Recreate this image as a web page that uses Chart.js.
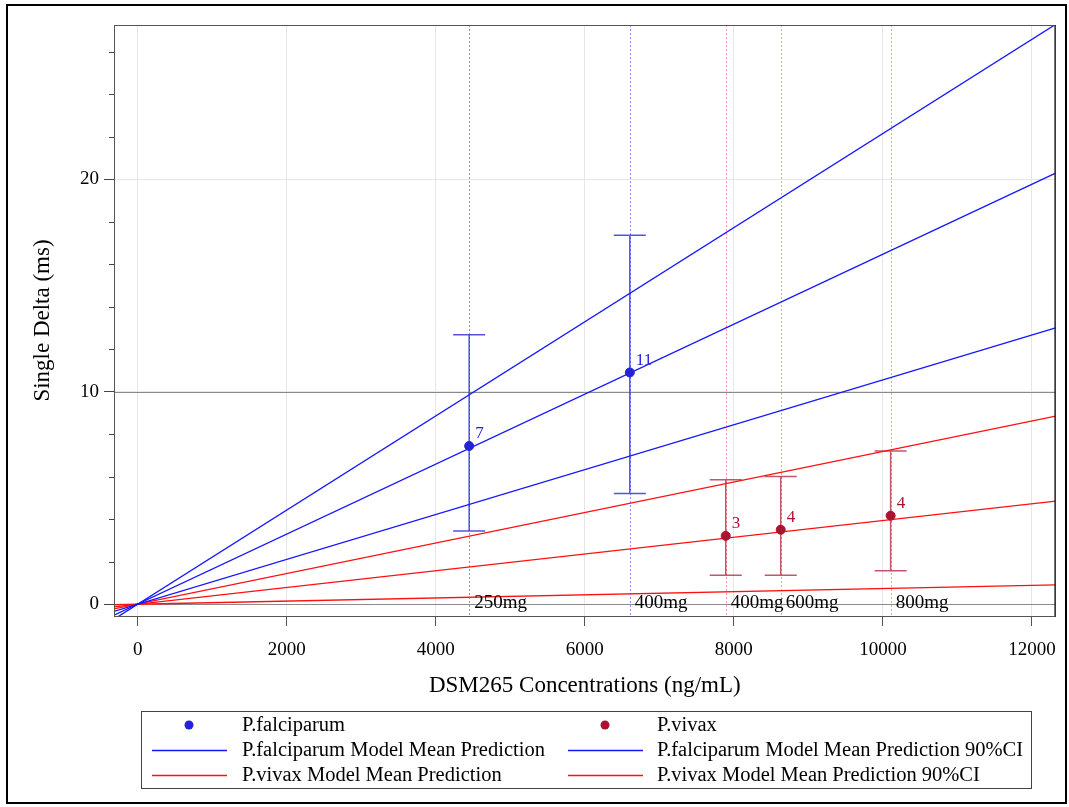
<!DOCTYPE html>
<html>
<head>
<meta charset="utf-8">
<title>DSM265 Single Delta</title>
<script src="https://cdn.jsdelivr.net/npm/chart.js@4/dist/chart.umd.min.js"></script>
<style>
  body { margin: 0; background: #fff; }
  #wrap { width: 1069px; height: 807px; }
</style>
</head>
<body>
<div id="wrap"><canvas id="deltaChart" width="1069" height="807"></canvas></div>
<script>
// observed means with 90% CI, per dose group
const pfConc = [4448, 6604];
const pfMean = [7.44, 10.90];
const pfLow = [3.44, 5.21];
const pfHigh = [12.67, 17.36];
const pfN = [7, 11];
const pfDose = ["250mg", "400mg"];

const pvConc = [7891, 8629, 10104];
const pvMean = [3.21, 3.50, 4.16];
const pvLow = [1.36, 1.36, 1.57];
const pvHigh = [5.85, 6.01, 7.20];
const pvN = [3, 4, 4];
const pvDose = ["400mg", "600mg", "800mg"];

// model prediction lines (value at each end of the x range)
const predConc = [-318, 12318];
const pfPred = [-0.52, 20.28];
const pfPredLo = [-0.34, 13.0];
const pfPredHi = [-0.71, 27.28];
const pvPred = [-0.13, 4.85];
const pvPredLo = [-0.03, 0.9];
const pvPredHi = [-0.23, 8.85];

const xTicks = [0, 2000, 4000, 6000, 8000, 10000, 12000];
const yTicks = [0, 10, 20];
const refLines = [0, 10];

const SERIF = "'Liberation Serif', 'DejaVu Serif', serif";
const PF_DOT = "#2424d6";
const PV_DOT = "#ab1430";
const PF_LINE = "#1616ff";
const PV_LINE = "#ff1010";

const pts = (xs, ys) => xs.map((x, i) => ({ x: x, y: ys[i] }));

function lineSet(label, ys, color) {
  return {
    label: label,
    data: pts(predConc, ys),
    showLine: true,
    borderColor: color,
    backgroundColor: color,
    borderWidth: 1.3,
    pointRadius: 0,
    pointHoverRadius: 0,
  };
}

const datasets = [
  { label: "P.falciparum", data: pts(pfConc, pfMean), backgroundColor: PF_DOT, borderColor: PF_DOT, pointRadius: 4.5, showLine: false },
  { label: "P.vivax", data: pts(pvConc, pvMean), backgroundColor: PV_DOT, borderColor: PV_DOT, pointRadius: 4.5, showLine: false },
  lineSet("P.falciparum Model Mean Prediction", pfPred, PF_LINE),
  lineSet("P.falciparum Model Mean Prediction 90%CI", pfPredLo, PF_LINE),
  lineSet("P.falciparum Model Mean Prediction 90%CI", pfPredHi, PF_LINE),
  lineSet("P.vivax Model Mean Prediction", pvPred, PV_LINE),
  lineSet("P.vivax Model Mean Prediction 90%CI", pvPredLo, PV_LINE),
  lineSet("P.vivax Model Mean Prediction 90%CI", pvPredHi, PV_LINE),
];

// legend: two columns, row by row
const legendOrder = [0, 1, 2, 3, 5, 6];

const groups = [
  { conc: pfConc, mean: pfMean, lo: pfLow, hi: pfHigh, n: pfN, dose: pfDose, dot: PF_DOT, bar: "rgba(40,40,220,0.8)", guide: "#8a8aff" },
  { conc: pvConc, mean: pvMean, lo: pvLow, hi: pvHigh, n: pvN, dose: pvDose, dot: PV_DOT, bar: "rgba(175,30,55,0.75)", guide: "#ff9a9a" },
];

const extras = {
  id: "extras",
  beforeDraw(chart) {
    const ctx = chart.ctx;
    ctx.save();
    ctx.fillStyle = "#fff";
    ctx.fillRect(0, 0, chart.width, chart.height);
    ctx.restore();
  },
  beforeDatasetsDraw(chart) {
    const { ctx, chartArea: a, scales: { x, y } } = chart;
    ctx.save();
    // reference lines
    ctx.strokeStyle = "#8a8a8a";
    ctx.lineWidth = 1;
    refLines.forEach(v => {
      const py = Math.round(y.getPixelForValue(v)) + 0.5;
      ctx.beginPath(); ctx.moveTo(a.left, py); ctx.lineTo(a.right, py); ctx.stroke();
    });
    // dotted guides at each dose group
    ctx.setLineDash([2, 2]);
    groups.forEach(g => {
      ctx.strokeStyle = g.guide;
      g.conc.forEach(c => {
        const px = Math.round(x.getPixelForValue(c)) + 0.5;
        ctx.beginPath(); ctx.moveTo(px, a.top); ctx.lineTo(px, a.bottom); ctx.stroke();
      });
    });
    ctx.setLineDash([]);
    // error bars
    groups.forEach(g => {
      ctx.strokeStyle = g.bar;
      ctx.lineWidth = 1.5;
      g.conc.forEach((c, i) => {
        const px = x.getPixelForValue(c);
        const top = y.getPixelForValue(g.hi[i]);
        const bot = y.getPixelForValue(g.lo[i]);
        ctx.beginPath();
        ctx.moveTo(px, top); ctx.lineTo(px, bot);
        ctx.moveTo(px - 16, top); ctx.lineTo(px + 16, top);
        ctx.moveTo(px - 16, bot); ctx.lineTo(px + 16, bot);
        ctx.stroke();
      });
    });
    ctx.restore();
  },
  afterDatasetsDraw(chart) {
    const { ctx, scales: { x, y } } = chart;
    ctx.save();
    ctx.textBaseline = "middle";
    ctx.textAlign = "left";
    groups.forEach(g => {
      g.conc.forEach((c, i) => {
        const px = x.getPixelForValue(c);
        const py = y.getPixelForValue(g.mean[i]);
        ctx.font = "17px " + SERIF;
        ctx.fillStyle = g.dot;
        ctx.fillText(String(g.n[i]), px + 6, py - 12);
        ctx.font = "19px " + SERIF;
        ctx.fillStyle = "#000";
        ctx.fillText(g.dose[i], px + 5, y.getPixelForValue(0) - 1);
      });
    });
    ctx.restore();
  },
  afterDraw(chart) {
    const { ctx, chartArea: a, scales: { y } } = chart;
    ctx.save();
    // plot box
    ctx.strokeStyle = "#555";
    ctx.lineWidth = 1;
    ctx.strokeRect(a.left + 0.5, a.top + 0.5, a.right - a.left - 1, a.bottom - a.top);
    ctx.strokeStyle = "#000";
    ctx.beginPath();
    ctx.moveTo(a.right - 0.5, a.top); ctx.lineTo(a.right - 0.5, a.bottom);
    ctx.stroke();
    // minor y ticks every 2
    ctx.strokeStyle = "#444";
    for (let v = 2; v < y.max; v += 2) {
      if (v % 10 === 0) continue;
      const py = Math.round(y.getPixelForValue(v)) + 0.5;
      ctx.beginPath(); ctx.moveTo(a.left - 5, py); ctx.lineTo(a.left, py); ctx.stroke();
    }
    // outer frame
    ctx.strokeStyle = "#000";
    ctx.lineWidth = 2;
    ctx.strokeRect(7, 5, 1059, 798);
    // legend
    const box = { left: 141, top: 711, right: 1031, bottom: 788 };
    ctx.lineWidth = 1;
    ctx.strokeStyle = "#444";
    ctx.strokeRect(box.left + 0.5, box.top + 0.5, box.right - box.left, box.bottom - box.top);
    const cols = [{ sym: 189, text: 242 }, { sym: 605, text: 657 }];
    const rowY = [725, 750, 775];
    ctx.font = "20.5px " + SERIF;
    ctx.textBaseline = "middle";
    ctx.textAlign = "left";
    legendOrder.forEach((di, k) => {
      const ds = chart.data.datasets[di];
      const col = cols[k % 2];
      const ry = rowY[Math.floor(k / 2)];
      if (ds.showLine) {
        ctx.strokeStyle = ds.borderColor;
        ctx.lineWidth = 1.3;
        ctx.beginPath(); ctx.moveTo(col.sym - 37, ry + 0.5); ctx.lineTo(col.sym + 38, ry + 0.5); ctx.stroke();
      } else {
        ctx.fillStyle = ds.backgroundColor;
        ctx.beginPath(); ctx.arc(col.sym, ry, 4.5, 0, Math.PI * 2); ctx.fill();
      }
      ctx.fillStyle = "#000";
      ctx.fillText(ds.label, col.text, ry + 1);
    });
    ctx.restore();
  }
};

new Chart(document.getElementById("deltaChart"), {
  type: "scatter",
  data: { datasets: datasets },
  plugins: [extras],
  options: {
    responsive: false,
    animation: false,
    layout: { padding: { left: 0, top: 25, right: 13, bottom: 107 } },
    plugins: {
      legend: { display: false },
      tooltip: { enabled: false },
    },
    scales: {
      x: {
        type: "linear",
        min: -318,
        max: 12318,
        afterBuildTicks: s => { s.ticks = xTicks.map(v => ({ value: v })); },
        afterFit: s => { s.height = 84; },
        grid: { color: "#e6e6e6", tickColor: "#555", tickLength: 10 },
        border: { color: "#000", width: 1 },
        ticks: {
          color: "#000",
          padding: 13,
          maxRotation: 0,
          font: { family: SERIF, size: 19 },
          callback: v => String(v),
        },
        title: {
          display: true,
          text: "DSM265 Concentrations (ng/mL)",
          color: "#000",
          padding: { top: 0, bottom: 0 },
          font: { family: SERIF, size: 23 },
        },
      },
      y: {
        type: "linear",
        min: -0.56,
        max: 27.25,
        afterBuildTicks: s => { s.ticks = yTicks.map(v => ({ value: v })); },
        afterFit: s => { s.width = 114; },
        grid: { color: "#e6e6e6", tickColor: "#444", tickLength: 10 },
        border: { color: "#000", width: 1 },
        ticks: { color: "#000", padding: 5, font: { family: SERIF, size: 19 }, callback: v => String(v) },
        title: {
          display: true,
          text: "Single Delta (ms)",
          color: "#000",
          padding: { top: 29, bottom: 0 },
          font: { family: SERIF, size: 23 },
        },
      },
    },
  },
});
</script>
</body>
</html>
